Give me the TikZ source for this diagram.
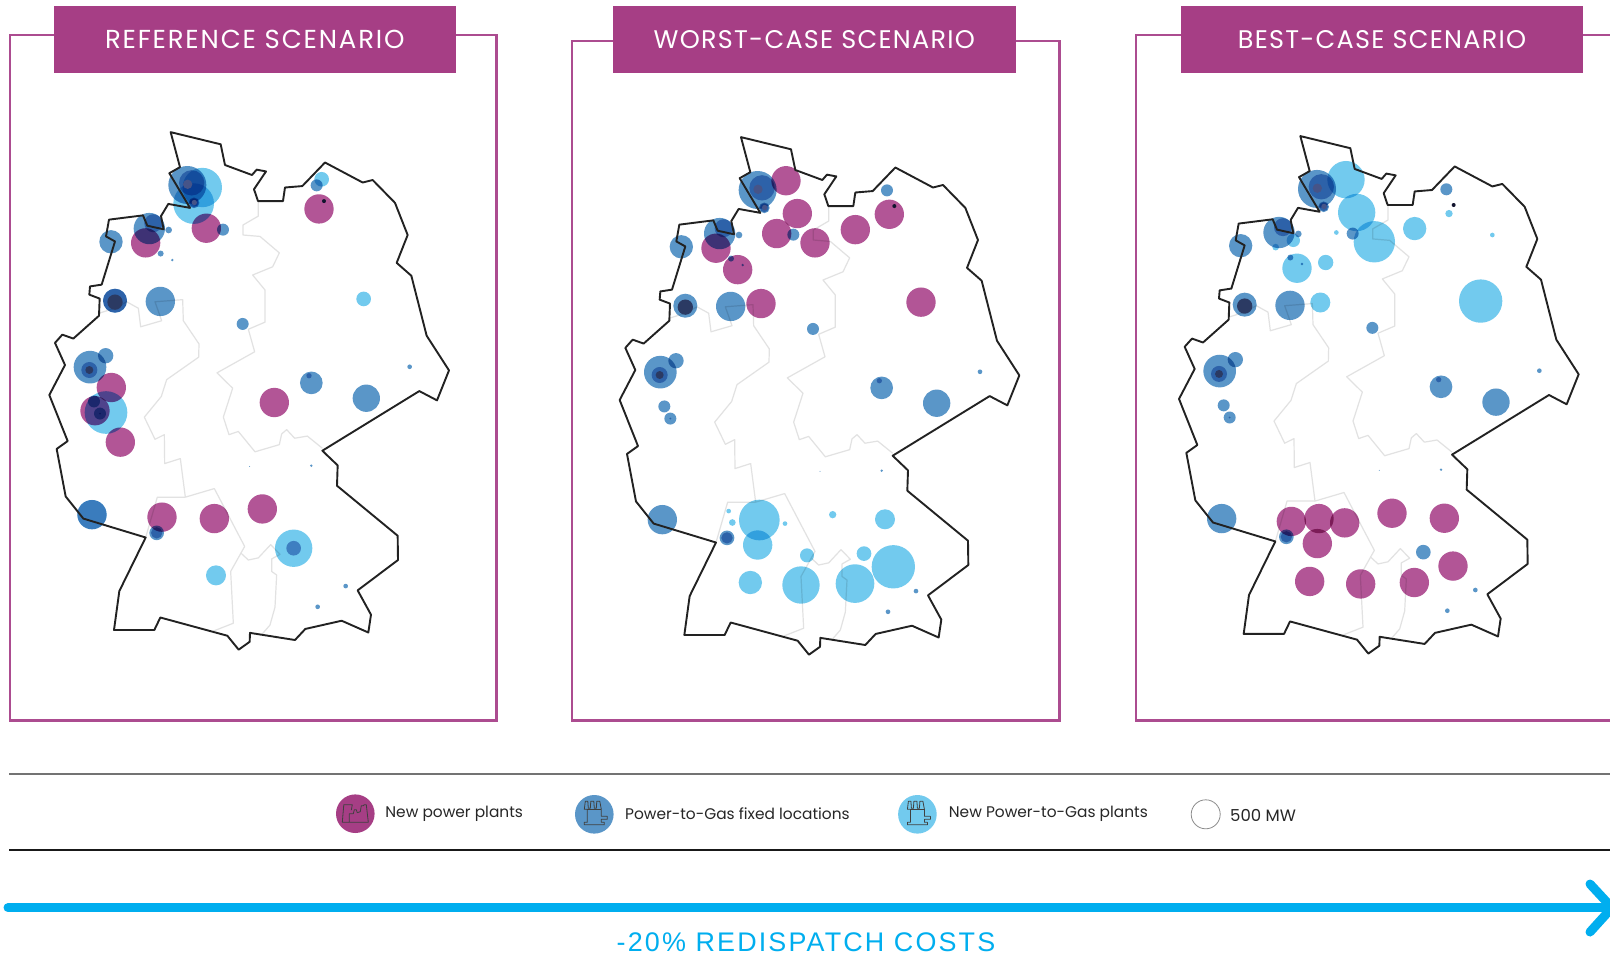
\documentclass[tikz,border=0pt]{standalone}
\usepackage{fontspec}
\setmainfont{Poppins}
\newfontfamily\headfont[LetterSpace=7]{Poppins}
\newfontfamily\headfontb[LetterSpace=5]{Poppins}
\newfontfamily\costfont[LetterSpace=8]{Liberation Sans}
\definecolor{frameC}{HTML}{A63E85}
\definecolor{frameL}{HTML}{AC4C90}
\definecolor{purpC}{HTML}{B25596}
\definecolor{blueC}{HTML}{5A96C8}
\definecolor{blueO}{HTML}{80A8D8}
\definecolor{blueP}{HTML}{A6D4F2}
\definecolor{blueQ}{HTML}{8CA1CF}
\definecolor{cyanC}{HTML}{72CAEE}
\definecolor{coreC}{HTML}{2B3A63}
\definecolor{nucC}{HTML}{465488}
\definecolor{pinC}{HTML}{12142E}
\definecolor{arrowC}{HTML}{00AEEF}
\definecolor{greyB}{HTML}{E2E2E2}
\definecolor{inkC}{HTML}{222222}
\tikzset{
  frameline/.style={draw=frameL,line width=2.4pt},
  header/.style={fill=frameC,text=white,minimum width=402.5pt,minimum height=67pt,inner sep=0pt,font=\headfont\fontsize{26}{30}\selectfont},
  legendtext/.style={anchor=west,inner sep=0pt,text=black!85,font=\fontsize{15.4}{18}\selectfont},
  iconline/.style={draw=black!75,line width=.8pt,line join=round},
  inner map/.style={x=.33333pt,y=-.35714pt},
}
% x y zoomradius
\newcommand{\spots}[2]{\foreach \px/\py/\pr in {#2}{\fill[#1] (\px,\py) circle [radius=\pr/3*1pt];}}
\newcommand{\mapborders}{%
  \draw[greyB,line width=1.2pt,line join=round] (775,283)--(775,325)--(729,350)--(729,378)--(780,382)--(838,428)--(818,467)--(758,490)--(795,532)--(795,622)--(745,642)--(764,705)--(651,764)--(698,807)--(670,888)--(687,937)--(715,928)--(765,985)--(838,965)--(845,935)--(860,923)--(884,947)--(922,941)--(967,975);
  \draw[greyB,line width=1.2pt,line join=round] (297,597)--(345,583)--(380,565)--(415,583)--(422,635)--(485,618)--(465,565)--(548,559)--(550,618)--(597,683)--(596,720)--(500,783)--(484,830)--(433,888)--(465,950)--(493,937)--(494,1018)--(541,1004)--(556,1112)--(643,1088)--(734,1250)--(692,1320)--(700,1465)--(640,1487);
  \draw[greyB,line width=1.2pt,line join=round] (437,1225)--(472,1112)--(556,1112);
  \draw[greyB,line width=1.2pt,line join=round] (722,1268)--(745,1288)--(775,1282)--(812,1245)--(840,1272)--(815,1285)--(815,1320)--(830,1330)--(825,1420)--(810,1470)--(785,1497);
}
\newcommand{\mapoutline}{%
  \draw[inkC,line width=1.9pt,line join=round] (512,90)--(662,124)--(675,182)--(756,210)--(770,195)--(798,200)--(762,250)--(774,283)--(849,283)--(855,245)--(907,241)--(975,175)--(1088,231)--(1118,224)--(1185,288)--(1223,378)--(1190,456)--(1234,492)--(1280,660)--(1347,757)--(1311,841)--(1258,815)--(967,982)--(1013,1023)--(1011,1080)--(1193,1220)--(1194,1288)--(1073,1373)--(1113,1441)--(1105,1491)--(1025,1458)--(916,1481)--(885,1512)--(750,1492)--(749,1517)--(716,1539)--(682,1500)--(481,1449)--(463,1484)--(342,1484)--(358,1375)--(437,1225)--(250,1172)--(197,1110)--(170,977)--(203,955)--(148,826)--(195,742)--(165,680)--(187,657)--(220,668)--(297,604)--(299,556)--(268,545)--(270,522)--(305,517)--(345,396)--(318,382)--(327,335)--(429,323)--(442,352)--(491,362)--(483,325)--(505,291)--(570,302)--(508,205)--(540,188)--cycle;
}
\newcommand{\fixedsites}{%
  \spots{blueC}{562/238/57,582/288/16,448/360/47,506/364/10,482/430/9,517/448/4,333/397/35,345/562/36,481/564/44,669/363/18,728/627/18,317/716/23,270/748/49,282/844/18,300/878/18,934/792/34,1099/835/41,1229/747/7,950/239/18,276/1161/44,470/1212/22,1037/1361/7,953/1419/7,934/1024/4,749/1026/1.5}
  \spots{blueO}{575/232/38,582/288/13,460/345/27,268/756/24,927/772/8,470/1212/17,300/878/3}
}
\newcommand{\fixedcores}{%
  \spots{nucC}{563/236/14,583/287/8}
  \spots{coreC}{345/566/23,268/756/12}
  \spots{pinC}{972/283/6}
}
\newcommand{\factoryicon}[1]{\begin{scope}[shift={(#1)}]
  \draw[iconline] (-6.5,8.5)--(-13,8.5)--(-11.5,-9)--(-3,-9)--(-4,-3.5);
  \draw[iconline] (-6,8.5)--(-6,0)--(-2,0)--(-1,-4)--(1,-4)--(2,-1)--(5,-2)--(6,-8)--(8,-8)--(9,-9)--(11,-9)--(13,8.5)--cycle;
\end{scope}}
\newcommand{\gasicon}[1]{\begin{scope}[shift={(#1)}]
  \draw[iconline] (-10,-5)--(-9,-13)--(-6.5,-13)--(-6,-6)--(-4,-6)--(-3.5,-13)--(-.5,-13)--(0,-6)--(2,-6)--(2.5,-13)--(5.5,-13)--(7,-5)--(7,2)--(13,2)--(13,5)--(7,5)--(7,8)--(10,8)--(10,10.5)--(-10,10.5)--(-10,8)--(-7,8)--(-7,-5)--cycle;
  \draw[iconline] (-7,-5)--(7,-5);
\end{scope}}
\begin{document}
\begin{tikzpicture}[x=1pt,y=-1pt]
\clip (0,0) rectangle (1610,956);
\fill[white] (0,0) rectangle (1610,956);
% frames
\draw[frameline] (10,35) rectangle (496.5,720.5);
\draw[frameline] (572,41) rectangle (1059.6,720.5);
\draw[frameline] (1136,35) rectangle (1640,720.5);
\node[header] (h1) at (254.8,39.2) {REFERENCE SCENARIO};
\node[header,font=\headfontb\fontsize{25.5}{30}\selectfont] (h2) at (814.3,39.2) {WORST-CASE SCENARIO};
\node[header,font=\headfontb\fontsize{25.5}{30}\selectfont] (h3) at (1382,39.2) {BEST-CASE SCENARIO};
% map 1
\begin{scope}[shift={(0,100)},inner map]
  \mapborders
\end{scope}
\begin{scope}[shift={(0,100)},inner map,blend mode=multiply]
  \spots{cyanC}{607/245/59,581/290/61,318/875/64,965/222/22,1091/557/22,648/1331/30,881/1255/56}
  \fixedsites
  \spots{blueO}{345/562/36}
  \spots{blueQ}{881/1255/22}
  \spots{blueP}{276/1161/44}
  \spots{purpC}{957/305/44,619/359/44,437/400/44,334/805/44,285/870/44,361/958/44,823/847/44,486/1168/44,643/1172/44,787/1145/44}
\end{scope}
\begin{scope}[shift={(0,100)},inner map]
  \fixedcores
  \mapoutline
\end{scope}
% map 2
\begin{scope}[shift={(570.33,105)},inner map]
  \mapborders
\end{scope}
\begin{scope}[shift={(560,100)},inner map,blend mode=multiply]
  \spots{cyanC}{598/1176/61,593/1246/44,975/1174/30,1000/1307/65,912/1270/22,741/1275/21,723/1358/56,885/1354/58,571/1351/35,818/1161/11,675/1186/7,517/1183/10,506/1151/7}
  \spots{purpC}{678/226/44,712/318/44,650/374/44,765/400/44,886/363/44,988/320/44,468/415/44,533/475/44,603/570/44,1083/566/44}
\end{scope}
\begin{scope}[shift={(570.33,105)},inner map,blend mode=multiply]
  \fixedsites
\end{scope}
\begin{scope}[shift={(570.33,105)},inner map]
  \fixedcores
  \mapoutline
\end{scope}
% map 3
\begin{scope}[shift={(1129.67,103.93)},inner map]
  \mapborders
\end{scope}
\begin{scope}[shift={(1120,100)},inner map,blend mode=multiply]
  \spots{cyanC}{678/223/56,710/315/56,763/397/62,884/360/35,1082/563/65,531/471/44,617/455/23,601/567/30,649/371/7,987/318/11,1117/378/7,520/393/20,467/412/10}
  \spots{purpC}{514/1180/44,597/1172/44,674/1184/44,592/1242/44,816/1157/44,973/1171/44,999/1305/44,569/1348/44,722/1355/44,883/1351/44}
\end{scope}
\begin{scope}[shift={(1129.67,103.93)},inner map,blend mode=multiply]
  \fixedsites
  \spots{blueC}{881/1255/22}
\end{scope}
\begin{scope}[shift={(1129.67,103.93)},inner map]
  \fixedcores
  \mapoutline
\end{scope}
% legend rules
\coordinate (r1a) at (9,774);
\coordinate (r1b) at (1610,774);
\coordinate (r2a) at (9,850);
\coordinate (r2b) at (1610,850);
\draw[black!55,line width=1.4pt] (r1a)--(r1b);
\draw[black!90,line width=1.2pt] (r2a)--(r2b);
% legend
\fill[frameC] (355.3,813.7) circle [radius=19.3pt];
\factoryicon{355.3,813.7}
\node[legendtext] (l1) at (385.2,813.5) {New power plants};
\fill[blueC] (594.3,814.3) circle [radius=19.3pt];
\gasicon{594.3,814.3}
\node[legendtext] (l2) at (625,813.5) {Power-to-Gas fixed locations};
\fill[cyanC] (917.4,814.3) circle [radius=19.3pt];
\gasicon{917.4,814.3}
\node[legendtext] (l3) at (948.7,814) {New Power-to-Gas plants};
\draw[black!45,line width=.8pt] (1205.7,814.3) circle [radius=14.5pt];
\node[legendtext,font=\fontsize{16.5}{19}\selectfont] (l4) at (1230,815) {500 MW};
% arrow
\coordinate (arrowstart) at (8,907.7);
\coordinate (arrowend) at (1609,907.7);
\coordinate (headA) at (1590,884);
\coordinate (headB) at (1590,932);
\draw[arrowC,line width=9pt,line cap=round] (arrowstart)--(arrowend);
\draw[arrowC,line width=9pt,line cap=round,line join=round] (headA)--(1612,907.7)--(headB);
\node[inner sep=0pt,text=arrowC,font=\costfont\fontsize{26.9}{30}\selectfont] (cost) at (806,942.5) {-20\% REDISPATCH COSTS};
\end{tikzpicture}
\end{document}
